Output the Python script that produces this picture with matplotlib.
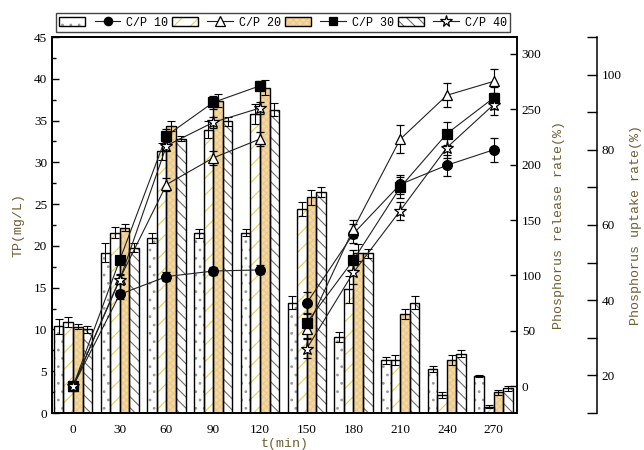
import matplotlib
matplotlib.use('Agg')
import matplotlib.pyplot as plt
from matplotlib import rcParams
from matplotlib.patches import Patch
from matplotlib.lines import Line2D
from matplotlib.legend_handler import HandlerTuple
from matplotlib.ticker import MultipleLocator
import numpy as np

rcParams['font.family'] = ['Liberation Serif']
rcParams['font.size'] = 9.5
rcParams['hatch.linewidth'] = 0.8

times = ['0', '30', '60', '90', '120', '150', '180', '210', '240', '270']
series = ['C/P 10', 'C/P 20', 'C/P 30', 'C/P 40']

# TP (mg/L) bars
tp_10 = [10.4, 19.2, 21.0, 21.5, 21.6, 13.2, 9.1, 6.3, 5.25, 4.45]
tp_20 = [10.85, 21.6, 31.3, 33.9, 35.8, 24.4, 14.8, 6.3, 2.15, 0.75]
tp_30 = [10.3, 22.2, 34.3, 37.4, 38.9, 25.8, 19.2, 11.85, 6.3, 2.5]
tp_40 = [10.0, 19.8, 32.8, 34.9, 36.3, 26.5, 19.1, 13.2, 7.1, 2.95]
tp_err_10 = [0.9, 1.1, 0.6, 0.5, 0.4, 0.8, 0.6, 0.4, 0.4, 0.15]
tp_err_20 = [0.6, 0.65, 1.0, 1.0, 1.2, 0.8, 1.6, 0.6, 0.4, 0.2]
tp_err_30 = [0.3, 0.4, 0.6, 0.8, 0.9, 0.9, 1.0, 0.6, 0.6, 0.3]
tp_err_40 = [0.4, 0.5, 0.3, 0.5, 0.8, 0.6, 0.5, 0.8, 0.4, 0.3]

# phosphorus release rate (%), t = 0..120
rel_10 = [0, 83, 99, 104, 105]
rel_20 = [0, 97, 182, 206, 223]
rel_30 = [0, 114, 226, 256, 271]
rel_40 = [0, 96, 217, 238, 251]
rel_err_10 = [0, 4, 4, 4, 4]
rel_err_20 = [0, 4, 6, 6, 6]
rel_err_30 = [0, 4, 6, 6, 4]
rel_err_40 = [0, 4, 5, 5, 5]

# phosphorus uptake rate (%), t = 150..270
upt_10 = [39.2, 57.7, 70.8, 75.9, 80.0]
upt_20 = [32.4, 59.0, 82.8, 94.5, 98.2]
upt_30 = [34.0, 50.7, 70.0, 84.3, 93.8]
upt_40 = [27.1, 47.4, 63.8, 80.6, 92.0]
upt_err_10 = [2.9, 2.5, 2.5, 2.8, 3.2]
upt_err_20 = [2.5, 2.4, 3.7, 3.2, 3.2]
upt_err_30 = [2.5, 2.6, 2.8, 3.1, 3.0]
upt_err_40 = [2.5, 3.0, 2.4, 2.8, 2.8]

tps = [tp_10, tp_20, tp_30, tp_40]
tp_errs = [tp_err_10, tp_err_20, tp_err_30, tp_err_40]
rels = [rel_10, rel_20, rel_30, rel_40]
rel_errs = [rel_err_10, rel_err_20, rel_err_30, rel_err_40]
upts = [upt_10, upt_20, upt_30, upt_40]
upt_errs = [upt_err_10, upt_err_20, upt_err_30, upt_err_40]

# bar styles: face, hatch, hatch colour
bar_styles = [('white', '..', '#9a9a9a'),
              ('white', '//', '#e8cf4a'),
              ('#f4d8a2', 'xxxxx', '#ecc98a'),
              ('white', '\\\\\\', '#6e6e6e')]
markers = [('o', 'black'), ('^', 'white'), ('s', 'black'), ('*', 'white')]
msizes = [7, 7.5, 6.5, 9.5]
lab_color = '#6e5d30'
lab_font = ['Liberation Mono']

fig = plt.figure(figsize=(6.44, 4.5), dpi=100)
ax = fig.add_axes([52/644, 37/450, 465/644, 376/450])

x = np.arange(len(times))
w = 0.205
bar_handles = []
for i in range(4):
    face, hatch, hcol = bar_styles[i]
    xi = x + (i - 1.5) * w
    ax.bar(xi, tps[i], w, color=face, edgecolor=hcol, hatch=hatch, linewidth=0, zorder=2)
    ax.bar(xi, tps[i], w, fill=False, edgecolor='black', linewidth=1.0, zorder=3)
    ax.errorbar(xi, tps[i], yerr=tp_errs[i], fmt='none', ecolor='black',
                elinewidth=0.8, capsize=3, capthick=0.8, zorder=4)
    bar_handles.append((Patch(facecolor=face, edgecolor=hcol, hatch=hatch, linewidth=0),
                        Patch(fill=False, edgecolor='black', linewidth=1.0)))

ax.set_xlim(-0.45, 9.5)
ax.set_ylim(0, 45)
ax.set_xticks(x)
ax.set_xticklabels(times)
ax.tick_params(axis='x', length=0, pad=8)
ax.yaxis.set_major_locator(MultipleLocator(5))
ax.yaxis.set_minor_locator(MultipleLocator(2.5))
ax.tick_params(axis='y', which='major', direction='in', length=5, width=1)
ax.tick_params(axis='y', which='minor', direction='in', length=3, width=1)
ax.set_xlabel('t(min)', family=lab_font, color=lab_color, labelpad=1)
ax.set_ylabel('TP(mg/L)', family=lab_font, color=lab_color, labelpad=7)

ax2 = ax.twinx()
ax2.set_ylim(-24, 315)
ax2.set_yticks(range(0, 301, 50))
ax2.tick_params(axis='y', direction='in', length=5, width=1)
ax2.set_ylabel('Phosphorus release rate(%)', family=lab_font, color=lab_color, labelpad=8)

ax3 = ax.twinx()
ax3.spines['right'].set_position(('outward', 57.6))
ax3.set_ylim(10, 110)
ax3.set_yticks(range(20, 101, 20))
ax3.yaxis.set_minor_locator(MultipleLocator(10))
ax3.tick_params(axis='y', which='major', direction='in', length=7, width=1)
ax3.tick_params(axis='y', which='minor', direction='in', length=7, width=1)
ax3.set_ylabel('Phosphorus uptake rate(%)', family=lab_font, color=lab_color, labelpad=6)

line_handles = []
for i in range(4):
    m, mf = markers[i]
    kw = dict(color='#222222', lw=0.8, marker=m, ms=msizes[i], mfc=mf, mec='black',
              mew=0.9, ecolor='black', elinewidth=0.8, capsize=3, capthick=0.8, zorder=5)
    ax2.errorbar(x[:5], rels[i], yerr=rel_errs[i], **kw)
    ax3.errorbar(x[5:], upts[i], yerr=upt_errs[i], **kw)
    line_handles.append(Line2D([], [], color='#222222', lw=0.8, marker=m, ms=msizes[i] - 1,
                               mfc=mf, mec='black', mew=0.9))

for a in (ax, ax2, ax3):
    for s in a.spines.values():
        s.set_linewidth(1.1)

handles, labels = [], []
for i in range(4):
    handles += [bar_handles[i], line_handles[i]]
    labels += ['', series[i]]
fig.legend(handles, labels, ncol=8, loc='center', bbox_to_anchor=(283/644, 1 - 22.5/450),
           handler_map={tuple: HandlerTuple(ndivide=1, pad=0)},
           prop={'family': lab_font, 'size': 8.5}, frameon=True, fancybox=False,
           edgecolor='#444444', framealpha=1, borderpad=0.3, borderaxespad=0,
           handlelength=2.2, handletextpad=0.5, columnspacing=0.3, handleheight=0.8)

plt.savefig('out.png', dpi=100)
